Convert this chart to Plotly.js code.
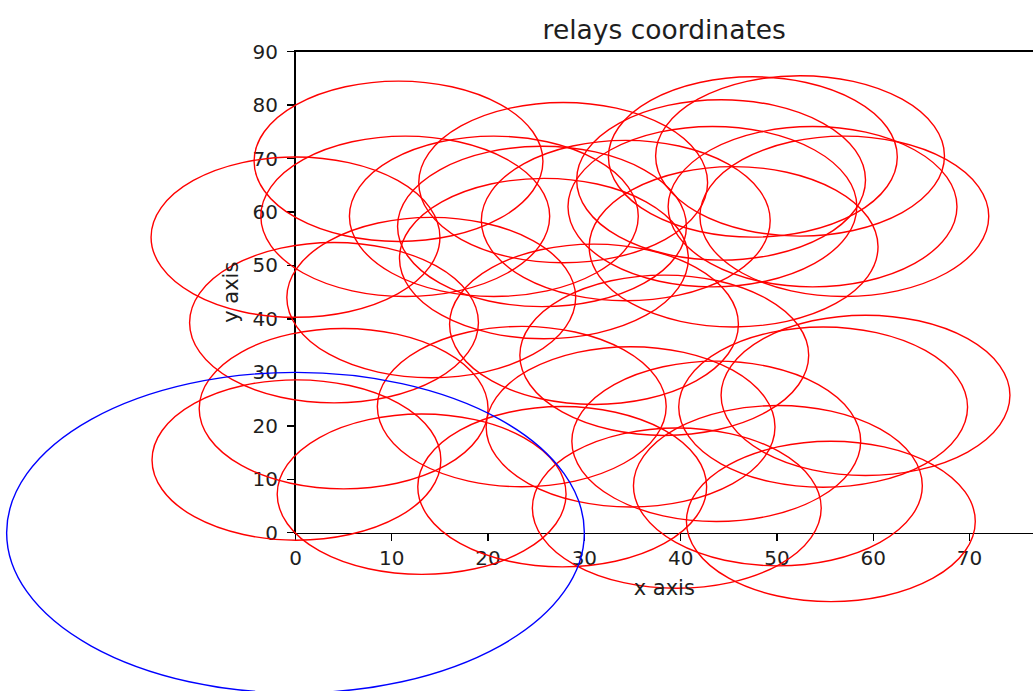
<!DOCTYPE html>
<html>
<head>
<meta charset="utf-8">
<script src="https://cdn.plot.ly/plotly-3.0.1.min.js"></script>
<style>html,body{margin:0;padding:0;background:#fff;}#chart{width:1033px;height:691px;}</style>
</head>
<body>
<div id="chart"></div>
<script>
// relay centres (data units)
var relayX = [0.1, 5.0, 13.1, 4.0, 0.0, 10.7, 11.4, 14.1, 20.6, 25.6, 25.8, 27.8, 34.3, 31.0, 38.3, 23.5, 27.7, 34.8, 39.6, 43.7, 50.1, 55.6, 54.8, 59.2, 44.2, 47.5, 52.4, 43.3, 45.5, 53.7, 57.0];
var relayY = [13.6, 23.2, 7.2, 39.3, 55.3, 69.5, 59.2, 44.0, 59.2, 57.3, 51.3, 65.5, 58.4, 39.0, 33.2, 23.6, 8.6, 19.8, 4.6, 17.1, 8.8, 2.1, 23.5, 25.7, 66.0, 70.3, 70.5, 61.0, 53.5, 61.0, 59.2];
var relayRadius = 15;
var baseX = [0];
var baseY = [0];
var baseRadius = 30;
var xTicks = [0, 10, 20, 30, 40, 50, 60, 70];
var yTicks = [0, 10, 20, 30, 40, 50, 60, 70, 80, 90];

// layout geometry (pixels)
var W = 1033, H = 691;
var px0 = 295.5, px70 = 969.5;   // x=0 and x=70
var py0 = 532.7, py90 = 51.7;    // y=0 and y=90
var sx = (px70 - px0) / 70;
var sy = (py0 - py90) / 90;

var fullXRange = [-px0 / sx, (W - px0) / sx];
var fullYRange = [-(H - py0) / sy, py0 / sy];

var shapes = [];
for (var i = 0; i < relayX.length; i++) {
  shapes.push({type: 'circle', xref: 'x', yref: 'y',
    x0: relayX[i] - relayRadius, x1: relayX[i] + relayRadius,
    y0: relayY[i] - relayRadius, y1: relayY[i] + relayRadius,
    line: {color: '#ff0000', width: 1.4}, layer: 'above'});
}
for (var j = 0; j < baseX.length; j++) {
  shapes.push({type: 'circle', xref: 'x', yref: 'y',
    x0: baseX[j] - baseRadius, x1: baseX[j] + baseRadius,
    y0: baseY[j] - baseRadius, y1: baseY[j] + baseRadius,
    line: {color: '#0000ff', width: 1.4}, layer: 'above'});
}

var font = 'DejaVu Sans, sans-serif';
var txt = '#1e1e1e';
var data = [
  {x: [], y: [], type: 'scatter', mode: 'markers', xaxis: 'x', yaxis: 'y', showlegend: false, hoverinfo: 'skip'},
  {x: [], y: [], type: 'scatter', mode: 'markers', xaxis: 'x2', yaxis: 'y2', showlegend: false, hoverinfo: 'skip'}
];

var layout = {
  width: W, height: H,
  margin: {l: 0, r: 0, t: 0, b: 0, pad: 0},
  paper_bgcolor: '#ffffff', plot_bgcolor: 'rgba(0,0,0,0)',
  showlegend: false,
  font: {family: font, color: txt, size: 20},
  title: {text: 'relays coordinates', font: {family: font, size: 26.5, color: txt},
    x: (px0 + W) / 2 / W, xanchor: 'center', xref: 'paper',
    y: 1 - 30 / H, yanchor: 'middle', yref: 'container'},
  xaxis: {domain: [0, 1], range: fullXRange, visible: false, fixedrange: true},
  yaxis: {domain: [0, 1], range: fullYRange, visible: false, fixedrange: true},
  xaxis2: {domain: [px0 / W, 1], range: [0, fullXRange[1]], anchor: 'y2',
    showline: true, mirror: true, linecolor: '#000', linewidth: 1.5,
    ticks: 'outside', ticklen: 7, tickwidth: 1.4, tickcolor: '#000',
    tickvals: xTicks, ticktext: xTicks.map(String),
    showgrid: false, zeroline: false, automargin: false,
    tickfont: {family: font, size: 20, color: txt},
    title: {text: 'x axis', font: {family: font, size: 21, color: txt}, standoff: 11}},
  yaxis2: {domain: [(H - py0) / H, (H - py90) / H], range: [0, 90], anchor: 'x2',
    showline: true, mirror: false, linecolor: '#000', linewidth: 1.5,
    ticks: 'outside', ticklen: 7, tickwidth: 1.4, tickcolor: '#000',
    tickvals: yTicks, ticktext: yTicks.map(String), ticklabelstandoff: 5,
    showgrid: false, zeroline: false, automargin: false,
    tickfont: {family: font, size: 20, color: txt},
    title: {text: 'y axis', font: {family: font, size: 21, color: txt}, standoff: 8}},
  shapes: shapes
};

Plotly.newPlot('chart', data, layout, {staticPlot: true, displayModeBar: false});
</script>
</body>
</html>
